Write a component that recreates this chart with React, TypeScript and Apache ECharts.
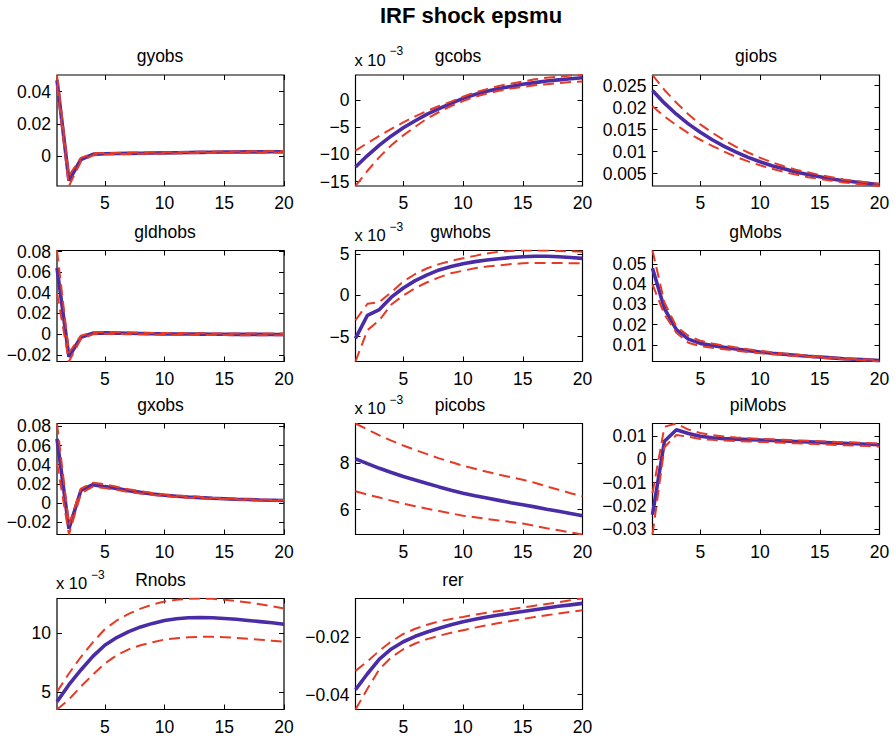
import React, { useEffect, useRef } from "react";
import * as echarts from "echarts";

// Horizon (periods)
const periods = [1, 2, 3, 4, 5, 6, 7, 8, 9, 10, 11, 12, 13, 14, 15, 16, 17, 18, 19, 20];
const xTicks = [5, 10, 15, 20];

// gyobs
const gyobsMean = [0.047, -0.015, -0.002, 0.0012, 0.0016, 0.0017, 0.0018, 0.0019, 0.002, 0.0021, 0.0022, 0.0023, 0.0024, 0.0025, 0.0026, 0.0026, 0.0027, 0.0027, 0.0028, 0.0028];
const gyobsUpper = [0.0503, -0.012, -0.001, 0.0018, 0.002, 0.0021, 0.0022, 0.0023, 0.0024, 0.0025, 0.0026, 0.0027, 0.0028, 0.0029, 0.003, 0.003, 0.0031, 0.0031, 0.0032, 0.0032];
const gyobsLower = [0.044, -0.0184, -0.0032, 0.0006, 0.0012, 0.0013, 0.0014, 0.0015, 0.0016, 0.0017, 0.0018, 0.0019, 0.002, 0.0021, 0.0022, 0.0022, 0.0023, 0.0023, 0.0024, 0.0024];
const gyobsTicks = [0, 0.02, 0.04];

// gcobs (x 10^-3)
const gcobsMean = [-12.3, -10.2, -8.3, -6.6, -5.1, -3.8, -2.6, -1.6, -0.6, 0.3, 1.0, 1.6, 2.1, 2.5, 2.9, 3.2, 3.5, 3.7, 3.9, 4.1];
const gcobsUpper = [-9.3, -7.9, -6.6, -5.3, -4.1, -3.0, -2.0, -1.1, -0.3, 0.6, 1.4, 2.0, 2.6, 3.0, 3.4, 3.8, 4.1, 4.3, 4.5, 4.6];
const gcobsLower = [-15.8, -13.0, -10.5, -8.3, -6.5, -4.9, -3.4, -2.2, -1.1, -0.2, 0.6, 1.2, 1.7, 2.1, 2.4, 2.7, 2.9, 3.1, 3.3, 3.4];
const gcobsTicks = [-15, -10, -5, 0];

// giobs
const giobsMean = [0.0239, 0.021, 0.0185, 0.0163, 0.0144, 0.0127, 0.0112, 0.0099, 0.0087, 0.0077, 0.0068, 0.0061, 0.0054, 0.0048, 0.0043, 0.0038, 0.0034, 0.0031, 0.0028, 0.0025];
const giobsUpper = [0.0274, 0.024, 0.0211, 0.0185, 0.0162, 0.0143, 0.0126, 0.0111, 0.0098, 0.0086, 0.0076, 0.0067, 0.0059, 0.0053, 0.0047, 0.0042, 0.0037, 0.0033, 0.003, 0.0027];
const giobsLower = [0.0203, 0.018, 0.016, 0.0142, 0.0127, 0.0113, 0.01, 0.0088, 0.0078, 0.0069, 0.0061, 0.0054, 0.0048, 0.0042, 0.0038, 0.0034, 0.003, 0.0027, 0.0024, 0.0022];
const giobsTicks = [0.005, 0.01, 0.015, 0.02, 0.025];

// gldhobs
const gldhobsMean = [0.064, -0.022, -0.003, 0.0008, 0.0012, 0.001, 0.0008, 0.0006, 0.0004, 0.0003, 0.0002, 0.0001, 0.0, -0.0001, -0.0001, -0.0002, -0.0002, -0.0002, -0.0003, -0.0003];
const gldhobsUpper = [0.081, -0.018, -0.0015, 0.0018, 0.002, 0.0018, 0.0016, 0.0014, 0.0012, 0.0011, 0.001, 0.0009, 0.0008, 0.0007, 0.0007, 0.0006, 0.0006, 0.0006, 0.0005, 0.0005];
const gldhobsLower = [0.04, -0.0265, -0.0045, -0.0002, 0.0004, 0.0002, 0.0, -0.0002, -0.0004, -0.0005, -0.0006, -0.0007, -0.0008, -0.0009, -0.0009, -0.001, -0.001, -0.001, -0.0011, -0.0011];
const gldhobsTicks = [-0.02, 0, 0.02, 0.04, 0.06, 0.08];

// gwhobs (x 10^-3)
const gwhobsMean = [-5.2, -2.4, -1.7, -0.2, 0.9, 1.8, 2.5, 3.1, 3.5, 3.85, 4.1, 4.3, 4.45, 4.6, 4.7, 4.75, 4.75, 4.7, 4.6, 4.5];
const gwhobsUpper = [-3.0, -1.0, -0.8, 0.4, 1.7, 2.6, 3.3, 3.8, 4.2, 4.5, 4.8, 5.1, 5.3, 5.4, 5.45, 5.45, 5.45, 5.4, 5.35, 5.3];
const gwhobsLower = [-8.0, -4.2, -3.0, -1.1, 0.0, 0.9, 1.6, 2.2, 2.7, 3.0, 3.3, 3.5, 3.65, 3.8, 3.9, 3.95, 3.95, 3.95, 3.9, 3.9];
const gwhobsTicks = [-5, 0, 5];

// gMobs
const gMobsMean = [0.048, 0.028, 0.0175, 0.0128, 0.0107, 0.0096, 0.0087, 0.0079, 0.0071, 0.0064, 0.0058, 0.0053, 0.0048, 0.0043, 0.0039, 0.0035, 0.0031, 0.0028, 0.0025, 0.0022];
const gMobsUpper = [0.0568, 0.031, 0.019, 0.0145, 0.012, 0.0106, 0.0096, 0.0087, 0.0078, 0.007, 0.0063, 0.0057, 0.0052, 0.0046, 0.0042, 0.0037, 0.0033, 0.003, 0.0027, 0.0024];
const gMobsLower = [0.04, 0.025, 0.016, 0.011, 0.0093, 0.0085, 0.0078, 0.0071, 0.0064, 0.0058, 0.0053, 0.0048, 0.0044, 0.004, 0.0036, 0.0032, 0.0028, 0.0025, 0.0021, 0.0017];
const gMobsTicks = [0.01, 0.02, 0.03, 0.04, 0.05];

// gxobs
const gxobsMean = [0.067, -0.027, 0.013, 0.019, 0.017, 0.0152, 0.0128, 0.011, 0.0094, 0.008, 0.007, 0.0062, 0.0055, 0.0049, 0.0044, 0.0039, 0.0035, 0.0031, 0.0028, 0.0025];
const gxobsUpper = [0.083, -0.023, 0.015, 0.021, 0.0195, 0.0168, 0.0142, 0.0122, 0.0104, 0.0089, 0.0078, 0.0069, 0.0061, 0.0054, 0.0048, 0.0043, 0.0039, 0.0035, 0.0031, 0.0028];
const gxobsLower = [0.042, -0.033, 0.01, 0.017, 0.0155, 0.0137, 0.0115, 0.0098, 0.0084, 0.0071, 0.0062, 0.0055, 0.0049, 0.0044, 0.004, 0.0035, 0.0031, 0.0027, 0.0024, 0.0021];
const gxobsTicks = [-0.02, 0, 0.02, 0.04, 0.06, 0.08];

// picobs (x 10^-3)
const picobsMean = [8.19, 7.98, 7.78, 7.6, 7.43, 7.28, 7.13, 6.98, 6.84, 6.71, 6.6, 6.5, 6.4, 6.3, 6.21, 6.12, 6.02, 5.93, 5.83, 5.74];
const picobsUpper = [9.71, 9.45, 9.2, 8.97, 8.76, 8.57, 8.39, 8.21, 8.05, 7.89, 7.76, 7.63, 7.51, 7.4, 7.29, 7.16, 7.0, 6.86, 6.71, 6.57];
const picobsLower = [6.79, 6.65, 6.52, 6.39, 6.26, 6.15, 6.04, 5.94, 5.84, 5.74, 5.67, 5.6, 5.53, 5.47, 5.4, 5.3, 5.2, 5.11, 5.02, 4.93];
const picobsTicks = [6, 8];

// piMobs
const piMobsMean = [-0.0237, 0.0078, 0.0127, 0.0111, 0.0099, 0.0093, 0.0089, 0.0087, 0.0085, 0.0083, 0.0081, 0.0079, 0.0077, 0.0075, 0.0073, 0.0071, 0.0069, 0.0067, 0.0065, 0.0063];
const piMobsUpper = [-0.0145, 0.014, 0.0154, 0.0128, 0.0113, 0.0104, 0.0098, 0.0094, 0.0091, 0.0088, 0.0086, 0.0084, 0.0082, 0.008, 0.0078, 0.0076, 0.0074, 0.0072, 0.007, 0.0068];
const piMobsLower = [-0.0322, 0.0052, 0.0105, 0.0097, 0.0088, 0.0084, 0.0081, 0.0079, 0.0077, 0.0075, 0.0073, 0.0071, 0.0069, 0.0067, 0.0065, 0.0063, 0.0061, 0.0059, 0.0057, 0.0055];
const piMobsTicks = [-0.03, -0.02, -0.01, 0, 0.01];

// Rnobs (x 10^-3)
const RnobsMean = [4.15, 5.6, 6.85, 8.0, 8.95, 9.6, 10.1, 10.5, 10.8, 11.05, 11.2, 11.28, 11.3, 11.28, 11.22, 11.15, 11.05, 10.95, 10.85, 10.73];
const RnobsUpper = [5.0, 6.55, 7.95, 9.2, 10.3, 11.05, 11.6, 12.05, 12.4, 12.65, 12.8, 12.88, 12.91, 12.88, 12.8, 12.7, 12.58, 12.43, 12.25, 12.06];
const RnobsLower = [3.5, 4.35, 5.45, 6.45, 7.4, 8.1, 8.6, 8.95, 9.2, 9.43, 9.55, 9.62, 9.66, 9.66, 9.63, 9.57, 9.5, 9.42, 9.33, 9.24];
const RnobsTicks = [5, 10];

// rer
const rerMean = [-0.0383, -0.0328, -0.0277, -0.0242, -0.0217, -0.0198, -0.0183, -0.017, -0.0158, -0.0148, -0.0139, -0.0131, -0.0124, -0.0118, -0.0112, -0.0106, -0.01, -0.0094, -0.0089, -0.0084];
const rerUpper = [-0.0318, -0.0285, -0.0248, -0.0216, -0.019, -0.0172, -0.0158, -0.0146, -0.0138, -0.0131, -0.0123, -0.0116, -0.011, -0.0104, -0.0098, -0.0092, -0.0086, -0.008, -0.0073, -0.0067];
const rerLower = [-0.0452, -0.038, -0.0312, -0.0271, -0.0243, -0.0223, -0.0208, -0.0196, -0.0186, -0.0177, -0.0168, -0.016, -0.0152, -0.0145, -0.0138, -0.0131, -0.0125, -0.0119, -0.0113, -0.0108];
const rerTicks = [-0.04, -0.02];

const panelNames = ["gyobs", "gcobs", "giobs", "gldhobs", "gwhobs", "gMobs", "gxobs", "picobs", "piMobs", "Rnobs", "rer"];
const panelMeans = [gyobsMean, gcobsMean, giobsMean, gldhobsMean, gwhobsMean, gMobsMean, gxobsMean, picobsMean, piMobsMean, RnobsMean, rerMean];
const panelUppers = [gyobsUpper, gcobsUpper, giobsUpper, gldhobsUpper, gwhobsUpper, gMobsUpper, gxobsUpper, picobsUpper, piMobsUpper, RnobsUpper, rerUpper];
const panelLowers = [gyobsLower, gcobsLower, giobsLower, gldhobsLower, gwhobsLower, gMobsLower, gxobsLower, picobsLower, piMobsLower, RnobsLower, rerLower];
const panelTicks = [gyobsTicks, gcobsTicks, giobsTicks, gldhobsTicks, gwhobsTicks, gMobsTicks, gxobsTicks, picobsTicks, piMobsTicks, RnobsTicks, rerTicks];
const panelScaled = [false, true, false, false, true, false, false, true, false, true, false];

// Layout
const colLeft = [57, 355.5, 652.5];
const rowTop = [75, 250.5, 423.5, 598.5];
const boxW = 227;
const boxH = 111;
const titleCenterX = [160, 458, 756, 165, 460.5, 755.5, 160.5, 460, 758, 160.5, 453];

const FONT = "'Liberation Sans', Arial, Helvetica, sans-serif";
const LABEL_SIZE = 17.5;
const BLUE = "#4a2ca6";
const RED = "#e63a26";

function fmt(v: number): string {
  const r = +(+v).toPrecision(10);
  if (Math.abs(r) < 1e-12) return "0";
  const s = String(Math.abs(r));
  return r < 0 ? "\u2212" + s : s;
}

export default function App() {
  const ref = useRef<HTMLDivElement>(null);
  useEffect(() => {
    if (!ref.current) return;
    const chart = echarts.init(ref.current, null, { renderer: "svg" });
    const grid: any[] = [];
    const xAxis: any[] = [];
    const yAxis: any[] = [];
    const series: any[] = [];
    const graphic: any[] = [];

    graphic.push({
      type: "text",
      x: 471,
      y: 15,
      style: { text: "IRF shock epsmu", font: `bold 22px ${FONT}`, fill: "#000", align: "center", verticalAlign: "middle" },
    });

    panelNames.forEach((name, i) => {
      const r = Math.floor(i / 3);
      const c = i % 3;
      const left = colLeft[c];
      const top = rowTop[r];
      const all = [...panelMeans[i], ...panelUppers[i], ...panelLowers[i]];
      const yMin = Math.min(...all);
      const yMax = Math.max(...all);
      grid.push({
        left, top, width: boxW, height: boxH,
        show: true, borderColor: "#000", borderWidth: 1.2, backgroundColor: "#fff",
        containLabel: false, outerBoundsMode: "none",
      });
      const tickStyle = { show: true, inside: true, length: 5, lineStyle: { color: "#000", width: 1 } };
      const noLine = { show: false, onZero: false };
      xAxis.push({
        type: "value", gridIndex: i, min: 1, max: 20, position: "bottom",
        axisLine: noLine, splitLine: { show: false },
        axisTick: { ...tickStyle, customValues: xTicks },
        axisLabel: { customValues: xTicks, color: "#000", fontSize: LABEL_SIZE, fontFamily: FONT, margin: 8 },
      });
      xAxis.push({
        type: "value", gridIndex: i, min: 1, max: 20, position: "top",
        axisLine: noLine, splitLine: { show: false },
        axisTick: { ...tickStyle, customValues: xTicks },
        axisLabel: { show: false },
      });
      yAxis.push({
        type: "value", gridIndex: i, min: yMin, max: yMax, position: "left",
        axisLine: noLine, splitLine: { show: false },
        axisTick: { ...tickStyle, customValues: panelTicks[i] },
        axisLabel: { customValues: panelTicks[i], color: "#000", fontSize: LABEL_SIZE, fontFamily: FONT, margin: 6, formatter: (v: number) => fmt(v) },
      });
      yAxis.push({
        type: "value", gridIndex: i, min: yMin, max: yMax, position: "right",
        axisLine: noLine, splitLine: { show: false },
        axisTick: { ...tickStyle, customValues: panelTicks[i] },
        axisLabel: { show: false },
      });
      const xi = 2 * i;
      const yi = 2 * i;
      series.push({
        type: "line", name: name + " mean", xAxisIndex: xi, yAxisIndex: yi,
        data: periods.map((p, k) => [p, panelMeans[i][k]]),
        symbol: "none", lineStyle: { color: BLUE, width: 3.6 }, z: 2,
      });
      series.push({
        type: "line", name: name + " upper", xAxisIndex: xi, yAxisIndex: yi,
        data: periods.map((p, k) => [p, panelUppers[i][k]]),
        symbol: "none", lineStyle: { color: RED, width: 2, type: [11, 6] }, z: 3,
      });
      series.push({
        type: "line", name: name + " lower", xAxisIndex: xi, yAxisIndex: yi,
        data: periods.map((p, k) => [p, panelLowers[i][k]]),
        symbol: "none", lineStyle: { color: RED, width: 2, type: [11, 6] }, z: 3,
      });
      graphic.push({
        type: "text",
        x: titleCenterX[i],
        y: top - 19,
        style: { text: name, font: `${LABEL_SIZE}px ${FONT}`, fill: "#000", align: "center", verticalAlign: "middle" },
      });
      if (panelScaled[i]) {
        graphic.push({
          type: "text", x: left - 1, y: top - 7,
          style: { text: "x 10", font: `16.5px ${FONT}`, fill: "#000", align: "left", verticalAlign: "bottom" },
        });
        graphic.push({
          type: "text", x: left + 34, y: top - 18,
          style: { text: "\u22123", font: `12px ${FONT}`, fill: "#000", align: "left", verticalAlign: "bottom" },
        });
      }
    });

    chart.setOption({
      animation: false,
      backgroundColor: "#fff",
      grid, xAxis, yAxis, series, graphic,
    });
    return () => chart.dispose();
  }, []);
  return <div ref={ref} style={{ position: "fixed", left: 0, top: 0, width: 894, height: 736, background: "#fff" }} />;
}
